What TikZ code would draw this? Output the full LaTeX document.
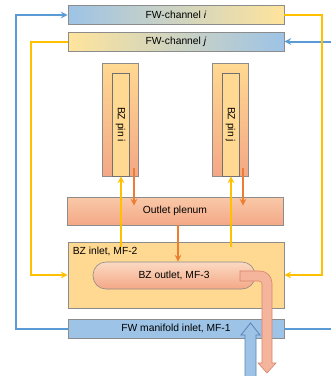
\documentclass[tikz,border=0pt]{standalone}
\usepackage{fontspec}
\setmainfont{Liberation Sans}
\usetikzlibrary{calc}

\definecolor{fwblue}{HTML}{9DC3E6}
\definecolor{fwyellow}{HTML}{FFE49C}
\definecolor{bzorange}{HTML}{FFD991}
\definecolor{salmontop}{HTML}{F9C9A8}
\definecolor{salmonbot}{HTML}{F4A886}
\definecolor{boxgrey}{HTML}{8C8C8C}
\definecolor{lineblue}{HTML}{5B9BD5}
\definecolor{lineyellow}{HTML}{FFC000}
\definecolor{lineorange}{HTML}{ED7D31}
\definecolor{pipepink}{HTML}{F5B49C}
\definecolor{pipeedge}{HTML}{D9826A}
\definecolor{arrowedge}{HTML}{5A82B8}

\newcommand{\lbl}{\fontsize{10.3}{12}\selectfont}

\begin{document}
\begin{tikzpicture}[x=1pt, y=-1pt,
  chanbox/.style={rectangle, draw=boxgrey, line width=0.8pt, minimum width=216pt,
    minimum height=19pt, inner sep=0pt, font=\lbl},
  pinbox/.style={rectangle, draw=boxgrey, line width=0.6pt, minimum width=36pt,
    minimum height=113pt, top color=bzorange, bottom color=salmonbot},
  pincore/.style={rectangle, draw=boxgrey!80!black, line width=0.6pt, fill=bzorange,
    minimum width=17pt, minimum height=103pt, inner sep=0pt},
  plenbox/.style={rectangle, draw=boxgrey, line width=0.8pt, minimum width=216pt,
    minimum height=28pt, top color=salmontop, bottom color=salmonbot, font=\lbl},
  inletbox/.style={rectangle, draw=boxgrey, line width=0.8pt, fill=bzorange,
    minimum width=216pt, minimum height=66pt},
  outletbox/.style={rectangle, draw=boxgrey, line width=0.6pt, rounded corners=13pt,
    minimum width=162pt, minimum height=27pt, top color=salmontop!70!white,
    bottom color=salmonbot, font=\lbl},
  blueline/.style={draw=lineblue, line width=2pt, ->, >=stealth},
  yelline/.style={draw=lineyellow, line width=2pt, ->, >=stealth},
  orarr/.style={draw=lineorange, line width=2pt, ->, >=stealth},
]
\useasboundingbox (0,0) rectangle (331,376);

% Column positions
\def\xmid{176}
\def\xpini{120}
\def\xpinj{230}

% ============================================================
% FW channels
% ============================================================
\node[chanbox, left color=fwblue, right color=fwyellow] (chi) at (\xmid, 15)
  {FW-channel \textit{i}};
\node[chanbox, left color=fwyellow, right color=fwblue] (chj) at (\xmid, 41.5)
  {FW-channel \textit{j}};

% ============================================================
% BZ pins
% ============================================================
\node[pinbox] (pini) at (\xpini, 119.5) {};
\node[pincore] (corei) at (\xpini+0.5, 124.5)
  {\rotatebox{-90}{\lbl BZ pin i}};
\node[pinbox] (pinj) at (\xpinj, 119.5) {};
\node[pincore] (corej) at (\xpinj+0.5, 124.5)
  {\rotatebox{-90}{\lbl BZ pin j}};

% ============================================================
% Plenum, manifolds
% ============================================================
\node[plenbox] (plenum) at (175, 211) {Outlet plenum};
\node[inletbox] (bzin) at (\xmid, 275) {};
\node[font=\lbl, anchor=north west, inner sep=0pt] (bzinlbl)
  at ($(bzin.north west)+(5,5)$) {BZ inlet, MF-2};
\node[outletbox] (bzout) at (174, 275.5) {BZ outlet, MF-3};
\node[chanbox, fill=fwblue] (mf1) at (\xmid, 328.5) {FW manifold inlet, MF-1};

% free ends at the right edge
\coordinate (bin) at (331, 41.5);
\coordinate (bout) at (331, 328.5);

% ============================================================
% Coolant lines
% ============================================================
\draw[blueline] (mf1.west) -- ++(-52,0) |- (chi.west);
\draw[blueline, -] (mf1.east) -- (bout);
\draw[blueline] (bin) -- (chj.east);

\draw[yelline] (chi.east) -- ++(38,0) |- (bzin.east);
\draw[yelline] (chj.west) -- ++(-37,0) |- (bzin.west);

% pins: feed from BZ inlet, return to plenum
\draw[yelline] ($(bzin.north -| pini.south)+(1,5)$) -- ($(pini.south)+(1,0)$);
\draw[yelline] ($(bzin.north -| pinj.south)+(1,5)$) -- ($(pinj.south)+(1,0)$);
\draw[orarr] ($(pini.south)+(14,-8)$) -- ($(plenum.north -| pini.south)+(14,9)$);
\draw[orarr] ($(pinj.south)+(13,-8)$) -- ($(plenum.north -| pinj.south)+(13,9)$);
\draw[orarr] ($(plenum.south)+(3,0)$) -- ($(bzout.north)+(4,0)$);

% ============================================================
% Inlet / outlet arrows
% ============================================================
\filldraw[fill=fwblue, draw=arrowedge, line width=0.8pt]
  (245,377) -- (245,335) -- (241,335) -- (250.5,323) -- (260,335) -- (256,335)
  -- (256,377);
\filldraw[fill=pipepink, draw=pipeedge, line width=0.6pt]
  (240,271) [rounded corners=12pt] -- (272,271) -- (272,300)
  [sharp corners] -- (272,363) -- (276,363) -- (267,373) -- (258,363) -- (262,363)
  [rounded corners=3pt] -- (262,281) [sharp corners] -- (240,281) -- cycle;

\end{tikzpicture}
\end{document}
